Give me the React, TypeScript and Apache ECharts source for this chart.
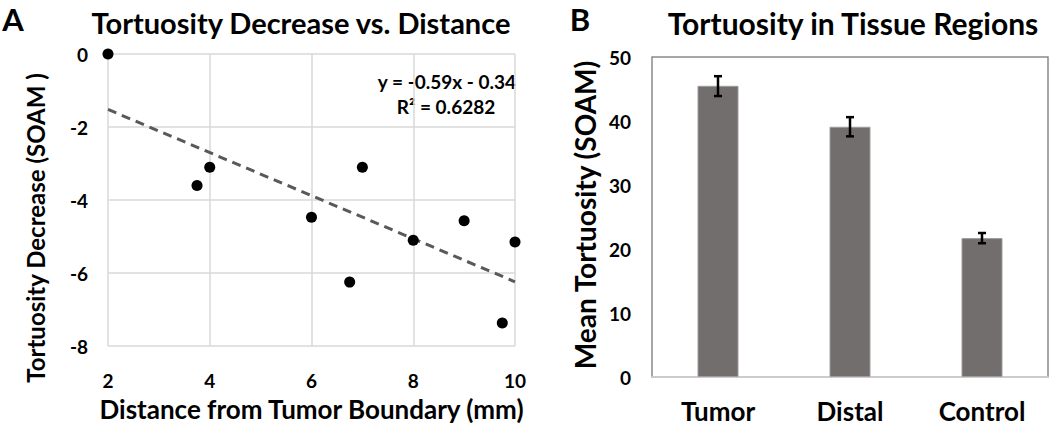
import React, { useEffect, useRef } from "react";
import * as echarts from "echarts";

// Panel A data
const distanceMm = [2, 3.75, 4, 6, 6.75, 7, 8, 9, 9.75, 10];
const tortuosityDecrease = [0, -3.6, -3.1, -4.47, -6.25, -3.1, -5.1, -4.57, -7.37, -5.15];
const trendX = [2, 10];
const trendY = [-1.52, -6.24];
const xTicksA = [2, 4, 6, 8, 10];
const yTicksA = [-8, -6, -4, -2, 0];
const equationLines = ["y = -0.59x - 0.34", "R² = 0.6282"];

// Panel B data
const regions = ["Tumor", "Distal", "Control"];
const meanTortuosity = [45.5, 39.1, 21.7];
const errLow = [43.9, 37.6, 20.9];
const errHigh = [47.0, 40.6, 22.5];

const FONT = "Lato";

export default function App() {
  const ref = useRef<HTMLDivElement>(null);
  useEffect(() => {
    document.body.style.margin = "0";
    if (!ref.current) return;
    const chart = echarts.init(ref.current, undefined, { renderer: "svg" });
    const tick = { color: "#000", fontFamily: FONT, fontWeight: "bold" as const, fontSize: 19 };
    const option: any = {
      animation: false,
      backgroundColor: "#fff",
      textStyle: { fontFamily: FONT },
      title: [
        {
          text: "Tortuosity Decrease vs. Distance",
          left: 296,
          top: 3,
          textAlign: "center",
          textStyle: { fontFamily: FONT, fontWeight: "bold", fontSize: 29, color: "#000" },
        },
        {
          text: "Tortuosity in Tissue Regions",
          left: 848,
          top: 3,
          textAlign: "center",
          textStyle: { fontFamily: FONT, fontWeight: "bold", fontSize: 30, color: "#000" },
        },
      ],
      grid: [
        { left: 108, right: 535, top: 54, bottom: 80, containLabel: false },
        {
          left: 652,
          right: 2,
          top: 57,
          bottom: 50,
          containLabel: false,
          show: true,
          borderColor: "#8a8a8a",
          borderWidth: 1.5,
        },
      ],
      xAxis: [
        {
          type: "value",
          gridIndex: 0,
          min: xTicksA[0],
          max: xTicksA[xTicksA.length - 1],
          interval: 2,
          axisLine: { show: false },
          axisTick: { show: false },
          splitLine: { show: true, lineStyle: { color: "#d9d9d9", width: 1.5 } },
          axisLabel: { ...tick, margin: 25 },
          name: "Distance from Tumor Boundary (mm)",
          nameLocation: "middle",
          nameGap: 50,
          nameTextStyle: { fontFamily: FONT, fontWeight: "bold", fontSize: 26, color: "#000" },
        },
        {
          type: "category",
          gridIndex: 1,
          data: regions,
          axisLine: { show: true, lineStyle: { color: "#d9d9d9", width: 1.5 } },
          axisTick: { show: false },
          axisLabel: { color: "#000", fontFamily: FONT, fontWeight: "bold", fontSize: 26, margin: 21 },
        },
      ],
      yAxis: [
        {
          type: "value",
          gridIndex: 0,
          min: yTicksA[0],
          max: yTicksA[yTicksA.length - 1],
          interval: 2,
          axisLine: { show: false },
          axisTick: { show: false },
          splitLine: { show: true, lineStyle: { color: "#d9d9d9", width: 1.5 } },
          axisLabel: { ...tick, margin: 20 },
        },
        {
          type: "value",
          gridIndex: 1,
          min: 0,
          max: 50,
          interval: 10,
          axisLine: { show: false },
          axisTick: { show: false },
          splitLine: { show: false },
          axisLabel: { ...tick, margin: 21 },
        },
      ],
      series: [
        {
          type: "line",
          xAxisIndex: 0,
          yAxisIndex: 0,
          data: trendX.map((x, i) => [x, trendY[i]]),
          showSymbol: false,
          symbol: "none",
          lineStyle: { color: "#595959", width: 3, type: [9, 6] },
          z: 2,
        },
        {
          type: "scatter",
          xAxisIndex: 0,
          yAxisIndex: 0,
          data: distanceMm.map((x, i) => [x, tortuosityDecrease[i]]),
          symbol: "circle",
          symbolSize: 11,
          itemStyle: { color: "#000", opacity: 1 },
          z: 3,
        },
        {
          type: "bar",
          xAxisIndex: 1,
          yAxisIndex: 1,
          data: meanTortuosity,
          barWidth: 41,
          itemStyle: { color: "#736e6e", borderColor: "#a09c9c", borderWidth: 1 },
        },
        {
          type: "custom",
          xAxisIndex: 1,
          yAxisIndex: 1,
          data: regions.map((_, i) => [i, errLow[i], errHigh[i]]),
          z: 5,
          renderItem: (params: any, api: any) => {
            const lo = api.coord([api.value(0), api.value(1)]);
            const hi = api.coord([api.value(0), api.value(2)]);
            const cap = 4;
            const style = { stroke: "#000", lineWidth: 2.5 };
            return {
              type: "group",
              children: [
                { type: "line", shape: { x1: lo[0], y1: lo[1], x2: hi[0], y2: hi[1] }, style },
                { type: "line", shape: { x1: lo[0] - cap, y1: lo[1], x2: lo[0] + cap, y2: lo[1] }, style },
                { type: "line", shape: { x1: hi[0] - cap, y1: hi[1], x2: hi[0] + cap, y2: hi[1] }, style },
              ],
            };
          },
        },
      ],
      graphic: [
        {
          type: "text",
          x: 13,
          y: 19,
          style: {
            text: "A",
            fontFamily: FONT,
            fontWeight: "bold",
            fontSize: 31,
            fill: "#000",
            align: "center",
            verticalAlign: "middle",
          },
        },
        {
          type: "text",
          x: 580,
          y: 19,
          style: {
            text: "B",
            fontFamily: FONT,
            fontWeight: "bold",
            fontSize: 31,
            fill: "#000",
            align: "center",
            verticalAlign: "middle",
          },
        },
        {
          type: "text",
          x: 447,
          y: 81,
          style: {
            text: equationLines[0],
            fontFamily: FONT,
            fontWeight: "bold",
            fontSize: 19,
            fill: "#000",
            align: "center",
            verticalAlign: "middle",
          },
        },
        {
          type: "text",
          x: 446,
          y: 106,
          style: {
            text: equationLines[1],
            fontFamily: FONT,
            fontWeight: "bold",
            fontSize: 19,
            fill: "#000",
            align: "center",
            verticalAlign: "middle",
          },
        },
        {
          type: "text",
          x: 35,
          y: 228,
          rotation: Math.PI / 2,
          style: {
            text: "Tortuosity Decrease (SOAM )",
            fontFamily: FONT,
            fontWeight: "bold",
            fontSize: 24,
            fill: "#000",
            align: "center",
            verticalAlign: "middle",
          },
        },
        {
          type: "text",
          x: 585,
          y: 215,
          rotation: Math.PI / 2,
          style: {
            text: "Mean Tortuosity (SOAM)",
            fontFamily: FONT,
            fontWeight: "bold",
            fontSize: 28,
            fill: "#000",
            align: "center",
            verticalAlign: "middle",
          },
        },
      ],
    };
    chart.setOption(option);
    return () => chart.dispose();
  }, []);
  return <div ref={ref} style={{ width: 1050, height: 427 }} />;
}
